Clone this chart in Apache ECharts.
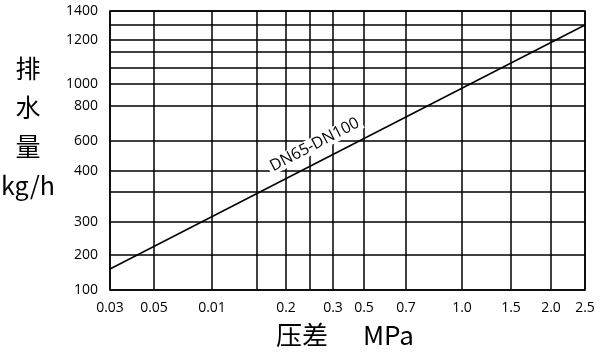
<!DOCTYPE html>
<html>
<head>
<meta charset="utf-8">
<script src="https://cdn.jsdelivr.net/npm/echarts@6/dist/echarts.min.js"></script>
<style>html,body{margin:0;padding:0;background:#fff}#c{width:600px;height:353px}</style>
</head>
<body>
<div id="c"></div>
<script>
// ---- data ----
const xTicks = [0.03, 0.05, 0.1, 0.15, 0.2, 0.25, 0.3, 0.5, 0.7, 1.0, 1.5, 2.0, 2.5];
const xTickLabels = ['0.03', '0.05', '0.01', '', '0.2', '', '0.3', '0.5', '0.7', '1.0', '1.5', '2.0', '2.5'];
const yTicks = [100, 200, 300, 350, 400, 600, 800, 1000, 1067, 1133, 1200, 1300, 1400];
const yTickLabels = ['100', '200', '300', '', '400', '600', '800', '1000', '', '', '1200', '', '1400'];
const curveName = 'DN65-DN100';
const curveX = [0.03, 2.5];
const curveY = [160, 1300];
const xName = '压差      MPa';
const yName = '排\n水\n量\nkg/h';

// ---- printed (non-uniform) scale of the chart paper ----
const xScaleStops = [0, 44, 102, 147, 176, 200, 223, 254, 296, 352, 401, 441, 475];
const yScaleStops = [0, 35, 68, 98, 119, 149, 184, 206, 222, 238, 250, 265, 279];

function piecewise(v, vals, stops) {
  for (let i = 0; i < vals.length - 1; i++) {
    if (v <= vals[i + 1] || i === vals.length - 2) {
      const t = (v - vals[i]) / (vals[i + 1] - vals[i]);
      return stops[i] + t * (stops[i + 1] - stops[i]);
    }
  }
}
const mapX = v => piecewise(v, xTicks, xScaleStops);
const mapY = v => piecewise(v, yTicks, yScaleStops);

const lineData = curveX.map((x, i) => [mapX(x), mapY(curveY[i])]);
const t = 0.4476;
const labelCoord = [
  lineData[0][0] + t * (lineData[1][0] - lineData[0][0]),
  lineData[0][1] + t * (lineData[1][1] - lineData[0][1])
];

function labelFor(stops, labels) {
  return function (v) {
    for (let i = 0; i < stops.length; i++) if (Math.abs(stops[i] - v) < 1e-6) return labels[i];
    return '';
  };
}

const chart = echarts.init(document.getElementById('c'), null, { renderer: 'canvas' });
const gridLine = { show: true, lineStyle: { color: '#000', width: 1.5 } };
chart.setOption({
  animation: false,
  backgroundColor: '#fff',
  grid: { left: 110, right: 15, top: 11, bottom: 63, show: true, borderColor: '#000', borderWidth: 1.5 },
  graphic: [{
    type: 'text', x: 28, y: 49,
    style: { text: yName, fontSize: 25, lineHeight: 39, align: 'center', verticalAlign: 'top',
      fill: '#000', fontFamily: 'Noto Sans CJK SC' }
  }],
  xAxis: {
    type: 'value', min: 0, max: xScaleStops[xScaleStops.length - 1],
    axisLine: { show: false },
    axisTick: { show: false, customValues: xScaleStops },
    axisLabel: { customValues: xScaleStops, formatter: labelFor(xScaleStops, xTickLabels), margin: 11,
      color: '#000', fontSize: 14, fontFamily: 'Open Sans' },
    splitLine: gridLine,
    name: xName, nameLocation: 'middle', nameGap: 32,
    nameTextStyle: { fontSize: 26, color: '#000', fontFamily: 'Noto Sans CJK SC', padding: [0, 5, 0, 0] }
  },
  yAxis: {
    type: 'value', min: 0, max: yScaleStops[yScaleStops.length - 1],
    axisLine: { show: false },
    axisTick: { show: false, customValues: yScaleStops },
    axisLabel: { customValues: yScaleStops, formatter: labelFor(yScaleStops, yTickLabels), margin: 12,
      color: '#000', fontSize: 14, fontFamily: 'Open Sans' },
    splitLine: gridLine
  },
  series: [{
    type: 'line', name: curveName, data: lineData, symbol: 'none',
    lineStyle: { color: '#000', width: 1.5 },
    markPoint: {
      symbol: 'circle', symbolSize: 0,
      data: [{ coord: labelCoord, value: curveName }],
      label: { show: true, formatter: curveName, rotate: 27.5, offset: [0, -17],
        backgroundColor: '#fff', padding: [0, 3], color: '#000', fontSize: 16, fontFamily: 'Open Sans' }
    }
  }]
});
</script>
</body>
</html>
